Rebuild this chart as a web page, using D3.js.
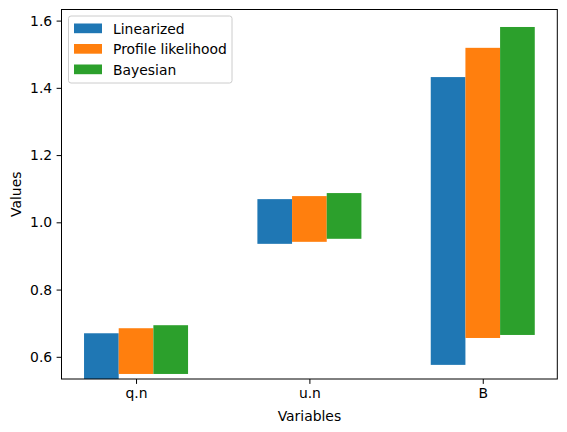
<!DOCTYPE html>
<html>
<head>
<meta charset="utf-8">
<script src="https://cdn.jsdelivr.net/npm/d3@7"></script>
<style>
  body { margin: 0; background: #fff; }
  text { font-family: "DejaVu Sans", sans-serif; fill: #000; }
</style>
</head>
<body>
<div id="chart"></div>
<script>
// data: each bar is an interval [low, high]
const variables = ["q.n", "u.n", "B"];
const methods = ["Linearized", "Profile likelihood", "Bayesian"];
const lowValues = [
  [0.525, 0.936, 0.576],   // Linearized
  [0.549, 0.942, 0.656],   // Profile likelihood
  [0.549, 0.951, 0.665]    // Bayesian
];
const highValues = [
  [0.670, 1.069, 1.432],
  [0.685, 1.078, 1.519],
  [0.694, 1.087, 1.581]
];
const yTicks = [0.6, 0.8, 1.0, 1.2, 1.4, 1.6];
const colors = ["#1f77b4", "#ff7f0e", "#2ca02c"];

let width = 567, height = 432;
let margin = {left: 61.5, right: 9.7, top: 9.5, bottom: 53};
let fontSize = 13.9;

let svg = d3.select("#chart")
    .append("svg")
    .attr("width", width)
    .attr("height", height);

let x = d3.scaleLinear()
    .domain([-0.43, 2.43])
    .range([margin.left, width - margin.right]);

let y = d3.scaleLinear()
    .domain([0.534, 1.633])
    .range([height - margin.bottom, margin.top]);

let barWidth = 0.2;

svg.append("clipPath")
    .attr("id", "plot-clip")
    .append("rect")
    .attr("x", margin.left)
    .attr("y", margin.top)
    .attr("width", width - margin.left - margin.right)
    .attr("height", height - margin.top - margin.bottom);

let bars = svg.append("g").attr("clip-path", "url(#plot-clip)");

methods.forEach(function(m, mi) {
    bars.selectAll(".bar-" + mi)
        .data(variables)
        .enter()
        .append("rect")
        .attr("class", "bar-" + mi)
        .attr("x", function(d, i) { return x(i + (mi - 1) * barWidth - barWidth / 2); })
        .attr("width", function(d, i) { return x(barWidth) - x(0); })
        .attr("y", function(d, i) { return y(highValues[mi][i]); })
        .attr("height", function(d, i) { return y(lowValues[mi][i]) - y(highValues[mi][i]); })
        .attr("fill", colors[mi]);
});

// axes
let xAxis = d3.axisBottom(x)
    .tickValues(d3.range(variables.length))
    .tickFormat(function(d) { return variables[d]; })
    .tickSizeOuter(0)
    .tickSize(4.9)
    .tickPadding(4.4);

let yAxis = d3.axisLeft(y)
    .tickValues(yTicks)
    .tickFormat(d3.format(".1f"))
    .tickSizeOuter(0)
    .tickSize(4.9)
    .tickPadding(4.4);

let gx = svg.append("g")
    .attr("transform", "translate(0," + (height - margin.bottom) + ")")
    .call(xAxis);

let gy = svg.append("g")
    .attr("transform", "translate(" + margin.left + ",0)")
    .call(yAxis);

[gx, gy].forEach(function(g) {
    g.select(".domain").remove();
    g.selectAll("text")
        .style("font-size", fontSize + "px")
        .style("font-family", "DejaVu Sans")
        .attr("fill", "#000");
    g.selectAll("line").attr("stroke", "#000").attr("stroke-width", 1);
});

// frame
svg.append("rect")
    .attr("x", margin.left)
    .attr("y", margin.top)
    .attr("width", width - margin.left - margin.right)
    .attr("height", height - margin.top - margin.bottom)
    .attr("fill", "none")
    .attr("stroke", "#000")
    .attr("stroke-width", 1);

svg.append("text")
    .text("Variables")
    .attr("x", (margin.left + width - margin.right) / 2)
    .attr("y", 420.5)
    .style("text-anchor", "middle")
    .style("font-size", fontSize + "px");

svg.append("text")
    .text("Values")
    .attr("transform", "translate(20.5," + ((margin.top + height - margin.bottom) / 2) + ") rotate(-90)")
    .style("text-anchor", "middle")
    .style("font-size", fontSize + "px");

// legend
let legend = svg.append("g")
    .attr("transform", "translate(68.5,16)");

legend.append("rect")
    .attr("width", 163.5)
    .attr("height", 67)
    .attr("rx", 2.5)
    .attr("fill", "#fff")
    .attr("fill-opacity", 0.8)
    .attr("stroke", "#ccc")
    .attr("stroke-width", 1);

let items = legend.selectAll(".legend-item")
    .data(methods)
    .enter()
    .append("g")
    .attr("class", "legend-item")
    .attr("transform", function(d, i) { return "translate(5.5," + (7.5 + i * 20.5) + ")"; });

items.append("rect")
    .attr("width", 28)
    .attr("height", 9.7)
    .attr("fill", function(d, i) { return colors[i]; });

items.append("text")
    .text(function(d) { return d; })
    .attr("x", 39)
    .attr("y", 10)
    .style("font-size", fontSize + "px");
</script>
</body>
</html>
